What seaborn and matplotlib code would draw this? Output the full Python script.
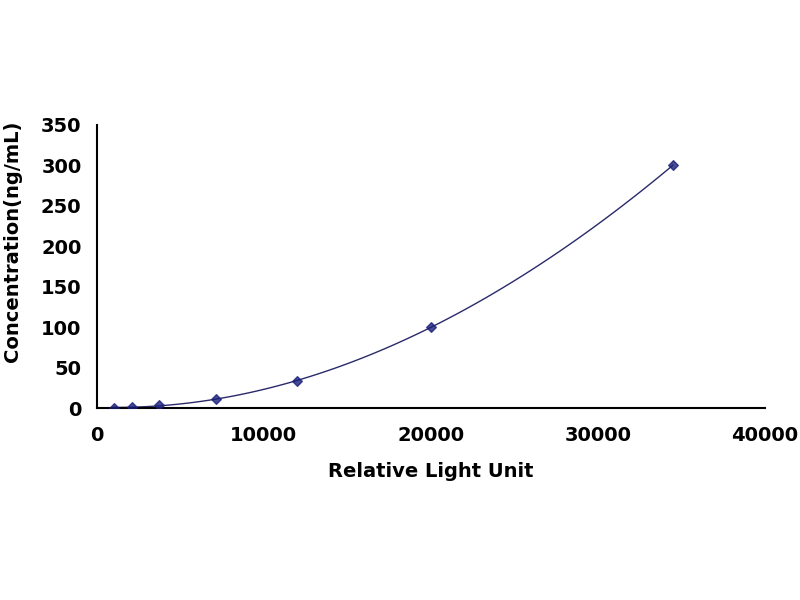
import numpy as np
import pandas as pd
import matplotlib
matplotlib.use('Agg')
import matplotlib.pyplot as plt
import seaborn as sns

# standard curve points
rlu = [1000, 2100, 3750, 7150, 12000, 20000, 34500]
conc = [0, 1.23, 3.7, 11.1, 33.3, 100, 300]
x_ticks = [0, 10000, 20000, 30000, 40000]
y_ticks = [0, 50, 100, 150, 200, 250, 300, 350]

df = pd.DataFrame({'RLU': rlu, 'Conc': conc})

sns.set_style('white')
plt.rcParams['font.family'] = ['DejaVu Sans']
plt.rcParams['text.color'] = 'black'
plt.rcParams['axes.labelcolor'] = 'black'

fig = plt.figure(figsize=(8, 6), dpi=100)
ax = fig.add_axes([0.121, 0.32, 0.835, 0.472])

navy = '#1a1f7a'
sns.regplot(data=df, x='RLU', y='Conc', order=3, ci=None, truncate=True,
            ax=ax, marker='D',
            scatter_kws={'s': 24, 'color': navy, 'edgecolors': navy, 'zorder': 3},
            line_kws={'color': '#2a2a6a', 'lw': 1.0})

ax.set_xlim(0, 40000)
ax.set_ylim(0, 350)
ax.set_xticks(x_ticks)
ax.set_yticks(y_ticks)
ax.tick_params(direction='in', length=6, width=1.5, colors='black',
               labelsize=14)
ax.tick_params(axis='x', pad=13)
ax.tick_params(axis='y', pad=11)
for lab in ax.get_xticklabels() + ax.get_yticklabels():
    lab.set_fontweight('bold')

for side in ['top', 'right']:
    ax.spines[side].set_visible(False)
for side in ['left', 'bottom']:
    ax.spines[side].set_color('black')
    ax.spines[side].set_linewidth(1.5)

ax.set_xlabel('Relative Light Unit', fontsize=14, fontweight='bold', labelpad=12)
ax.set_ylabel('Concentration(ng/mL)', fontsize=14, fontweight='bold')
ax.yaxis.set_label_coords(-0.112, 0.589)

fig.savefig('out.png', dpi=100, facecolor='white')
